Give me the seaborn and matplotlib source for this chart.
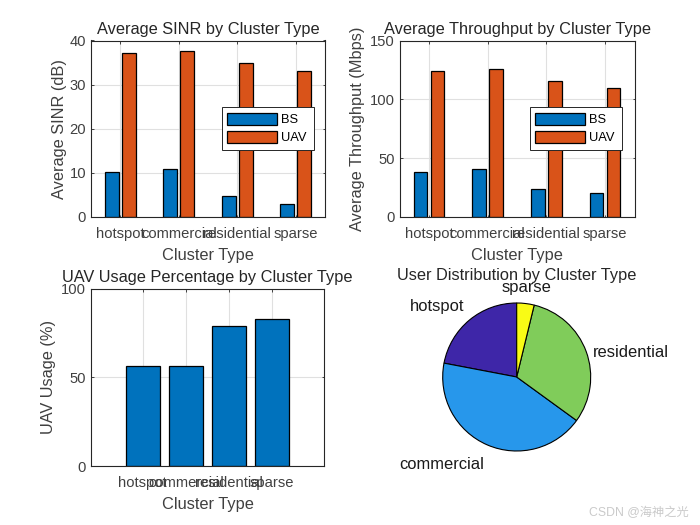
import matplotlib
matplotlib.use("Agg")
import matplotlib.pyplot as plt
import pandas as pd
import seaborn as sns

clusters = ["hotspot", "commercial", "residential", "sparse"]
sinr_bs = [10.1, 10.8, 4.7, 2.9]
sinr_uav = [37.1, 37.7, 34.8, 33.2]
tput_bs = [38.5, 40.8, 23.8, 20.5]
tput_uav = [123.7, 125.5, 116.0, 110.0]
uav_usage = [56.2, 56.2, 78.7, 82.7]
user_share = [22.0, 43.0, 31.2, 3.8]
pie_colors = ["#3e26a8", "#2797eb", "#80cc5a", "#f9fb15"]
BLUE, ORANGE = "#0072bd", "#d95319"

sns.set_theme(style="white")
plt.rcParams["font.family"] = ["Liberation Sans", "Noto Sans CJK SC", "DejaVu Sans"]
TITLE = 11.8
LABEL = 11.8
TICK = 10.6
DARK = "#262626"
W, H = 700, 525

fig = plt.figure(figsize=(7, 5.25), dpi=100)


def box(x0, y0, x1, y1):
    return [x0 / W, 1 - y1 / H, (x1 - x0) / W, (y1 - y0) / H]


def style(ax, ymax, yticks, title, ylabel, xlim, ylabelpad):
    ax.set_xlim(*xlim)
    ax.set_ylim(0, ymax)
    ax.set_yticks(yticks)
    ax.set_xticks(range(4))
    ax.set_xticklabels(clusters)
    ax.grid(True, color="#e0e0e0", lw=0.8)
    ax.set_axisbelow(True)
    ax.tick_params(axis="both", which="both", direction="in", length=1.8, width=0.6,
                   top=True, right=True, bottom=True, left=True,
                   labelsize=TICK, labelcolor="#404040", color=DARK)
    ax.tick_params(axis="x", pad=7)
    ax.tick_params(axis="y", pad=3.5)
    for s in ax.spines.values():
        s.set_visible(True)
        s.set_color(DARK)
        s.set_linewidth(0.8)
    ax.set_title(title, fontsize=TITLE, color=DARK, pad=5)
    ax.set_xlabel("Cluster Type", fontsize=LABEL, color="#404040", labelpad=5)
    ax.set_ylabel(ylabel, fontsize=LABEL, color="#404040", labelpad=ylabelpad)


def grouped(ax, bs, uav, ymax, yticks, title, ylabel, legend_box, ylabelpad):
    df = pd.DataFrame({
        "cluster": clusters * 2,
        "value": list(bs) + list(uav),
        "source": ["BS"] * 4 + ["UAV"] * 4,
    })
    sns.barplot(data=df, x="cluster", y="value", hue="source", ax=ax, errorbar=None,
                palette={"BS": BLUE, "UAV": ORANGE}, width=0.58, gap=0.2,
                saturation=1, edgecolor="black", linewidth=0.9)
    style(ax, ymax, yticks, title, ylabel, (-0.5, 3.5), ylabelpad)
    x0, y0, x1, y1 = legend_box
    bb = [x0 / W, 1 - y1 / H, (x1 - x0) / W, (y1 - y0) / H]
    leg = ax.legend(loc="center", bbox_to_anchor=bb, bbox_transform=fig.transFigure,
                    mode="expand", fancybox=False, framealpha=1, edgecolor=DARK,
                    fontsize=9.3, handlelength=3.85, handleheight=1.1, handletextpad=0.3,
                    labelspacing=0.36, borderpad=0.42, borderaxespad=0, ncol=1)
    leg.get_frame().set_linewidth(0.7)
    for t in leg.get_texts():
        t.set_color("black")


ax1 = fig.add_axes(box(91, 40.5, 325, 217))
grouped(ax1, sinr_bs, sinr_uav, 40, [0, 10, 20, 30, 40],
        "Average SINR by Cluster Type", "Average SINR (dB)", (221.5, 108.5, 313.5, 148.5), 2)

ax2 = fig.add_axes(box(399.5, 40.5, 634.5, 217))
grouped(ax2, tput_bs, tput_uav, 150, [0, 50, 100, 150],
        "Average Throughput by Cluster Type", "Average Throughput (Mbps)",
        (529.5, 108.5, 621.5, 148.5), 3.5)

ax3 = fig.add_axes(box(91, 288.5, 324, 466))
sns.barplot(x=clusters, y=uav_usage, ax=ax3, color=BLUE, saturation=1, width=0.8,
            errorbar=None, edgecolor="black", linewidth=0.9)
style(ax3, 100, [0, 50, 100], "UAV Usage Percentage by Cluster Type", "UAV Usage (%)", (-1.2, 4.2), 3.5)

R = 74
ax4 = fig.add_axes(box(516.7 - 1.25 * R, 377 - 1.25 * R, 516.7 + 1.25 * R, 377 + 1.25 * R))
wedges, texts = ax4.pie(user_share, labels=clusters, colors=pie_colors, startangle=90,
                        counterclock=True, radius=1, labeldistance=1.1,
                        wedgeprops={"edgecolor": "black", "linewidth": 0.8},
                        textprops={"fontsize": 11.9, "color": "#1a1a1a"})
ax4.set_xlim(-1.25, 1.25)
ax4.set_ylim(-1.25, 1.25)
for t, ha, va, dy in zip(texts, ["right", "right", "left", "center"],
                         ["bottom", "top", "center", "bottom"],
                         [0.0, -0.07, -0.05, 0.015]):
    t.set_ha(ha)
    t.set_va(va)
    x, y = t.get_position()
    t.set_position((x, y + dy))
fig.text(516.7 / W, 1 - 283 / H, "User Distribution by Cluster Type", fontsize=TITLE,
         color=DARK, ha="center", va="bottom")

fig.text(689 / W, 1 - 513 / H, "CSDN @海神之光", fontsize=8.8, color="#cacaca",
         ha="right", va="center")

fig.savefig("out.png", dpi=100, facecolor="white")
